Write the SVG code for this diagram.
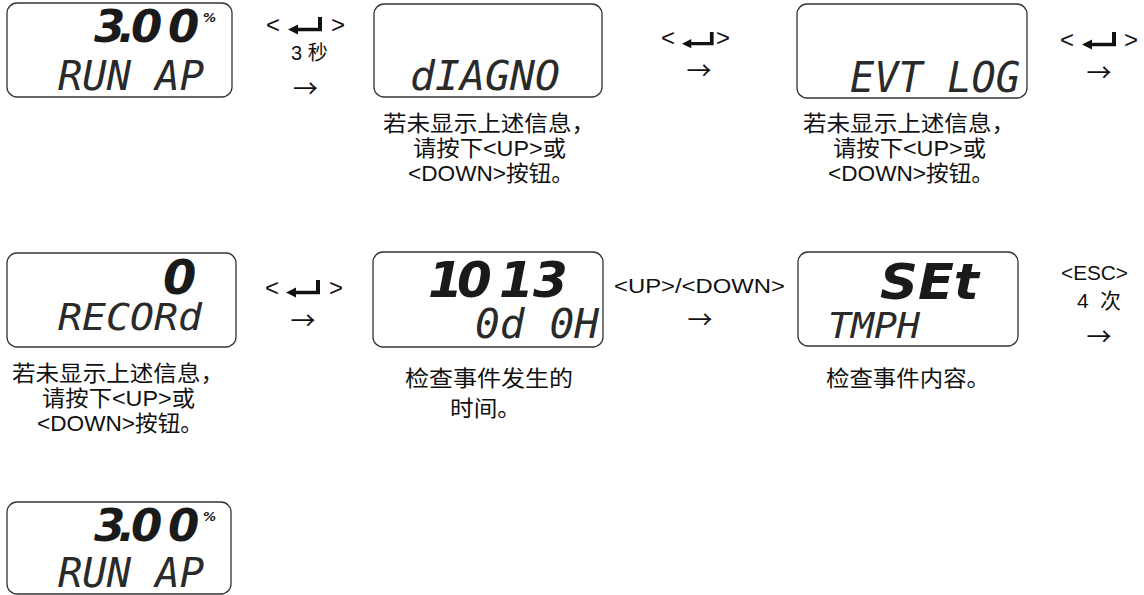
<svg xmlns="http://www.w3.org/2000/svg" xmlns:xlink="http://www.w3.org/1999/xlink" width="1144" height="595" viewBox="0 0 1144 595">
<style>
.box{fill:none;stroke:#333;stroke-width:1.3}
.lcd{font-family:"DejaVu Sans Mono",monospace;font-style:oblique;fill:#2a2a2a}
.top{font-family:"DejaVu Sans",sans-serif;font-style:oblique;font-weight:bold;fill:#1a1a1a}
.t{font-family:"Liberation Sans","Noto Sans CJK SC",sans-serif;fill:#111}
.desc{font-size:22px}
.lbl{font-size:21px}
.br{font-size:24px}
.arr{font-family:"Noto Sans CJK SC",sans-serif;font-size:25px;text-anchor:middle;fill:#111}
</style>
<defs>
<path id="ent" d="M0,12.5 L10,7.5 L10,10.8 L30,10.8 L30,0 L34,0 L34,14.2 L10,14.2 L10,17.5 Z" fill="#111"/>
</defs>
<rect width="1144" height="595" fill="#fff"/>

<g id="n1">
<rect class="box" x="7" y="3" width="225" height="94" rx="10"/>
<text class="top" font-size="45" x="94 118 131 168" y="42">3.00</text>
<text class="top" font-size="13" x="203" y="22">%</text>
<text class="lcd" font-size="41" x="58" y="90" textLength="146" lengthAdjust="spacingAndGlyphs">RUN AP</text>
</g>

<g id="n2">
<rect class="box" x="374" y="4" width="228" height="93" rx="10"/>
<text class="lcd" font-size="41" x="410" y="90" textLength="150" lengthAdjust="spacingAndGlyphs">dIAGNO</text>
</g>

<g id="n3">
<rect class="box" x="797" y="4" width="230" height="94" rx="10"/>
<text class="lcd" font-size="42" x="850" y="92" textLength="170" lengthAdjust="spacingAndGlyphs">EVT LOG</text>
</g>

<g id="n4">
<rect class="box" x="7" y="253" width="229" height="94" rx="10"/>
<text class="top" font-size="48" x="163" y="294">0</text>
<text class="lcd" font-size="38" x="58" y="330" textLength="144" lengthAdjust="spacingAndGlyphs">RECORd</text>
</g>

<g id="n5">
<rect class="box" x="373" y="252" width="230" height="95" rx="10"/>
<text class="top" font-size="50" x="428 457 499 533" y="297">1013</text>
<text class="lcd" font-size="41" x="475" y="338" textLength="124" lengthAdjust="spacingAndGlyphs">0d 0H</text>
</g>

<g id="n6">
<rect class="box" x="798" y="252" width="220" height="94" rx="10"/>
<text class="top" font-size="50" x="880" y="299" textLength="99" lengthAdjust="spacingAndGlyphs">SEt</text>
<text class="lcd" font-size="36" x="828" y="338" textLength="92" lengthAdjust="spacingAndGlyphs">TMPH</text>
</g>

<g id="n7">
<rect class="box" x="7" y="502" width="224" height="92" rx="10"/>
<text class="top" font-size="45" x="94 118 131 168" y="541">3.00</text>
<text class="top" font-size="13" x="203" y="521">%</text>
<text class="lcd" font-size="41" x="58" y="587" textLength="146" lengthAdjust="spacingAndGlyphs">RUN AP</text>
</g>

<g id="notes">
<g id="d4" class="t desc">
<text x="12" y="381" textLength="212" lengthAdjust="spacingAndGlyphs">若未显示上述信息，</text>
<text x="42" y="406" textLength="153" lengthAdjust="spacingAndGlyphs">请按下&lt;UP&gt;或</text>
<text x="37" y="431" textLength="166" lengthAdjust="spacingAndGlyphs">&lt;DOWN&gt;按钮。</text>
</g>
<g id="d2" class="t desc" transform="translate(371,-250)">
<text x="12" y="381" textLength="212" lengthAdjust="spacingAndGlyphs">若未显示上述信息，</text>
<text x="42" y="406" textLength="153" lengthAdjust="spacingAndGlyphs">请按下&lt;UP&gt;或</text>
<text x="37" y="431" textLength="166" lengthAdjust="spacingAndGlyphs">&lt;DOWN&gt;按钮。</text>
</g>
<g id="d3" class="t desc" transform="translate(791,-250)">
<text x="12" y="381" textLength="212" lengthAdjust="spacingAndGlyphs">若未显示上述信息，</text>
<text x="42" y="406" textLength="153" lengthAdjust="spacingAndGlyphs">请按下&lt;UP&gt;或</text>
<text x="37" y="431" textLength="166" lengthAdjust="spacingAndGlyphs">&lt;DOWN&gt;按钮。</text>
</g>
<g id="d5" class="t desc">
<text x="405" y="386" textLength="168" lengthAdjust="spacingAndGlyphs">检查事件发生的</text>
<text x="450" y="416" textLength="71" lengthAdjust="spacingAndGlyphs">时间。</text>
</g>
<g id="d6" class="t desc">
<text x="826" y="386" textLength="164" lengthAdjust="spacingAndGlyphs">检查事件内容。</text>
</g>
</g>

<g id="connectors">
<g id="c1" class="t lbl">
<text class="br" x="266" y="33">&lt;</text>
<use xlink:href="#ent" href="#ent" transform="translate(288,17)"/>
<text class="br" x="331" y="33">&gt;</text>
<text x="291" y="60" font-size="20">3 秒</text>
<text class="arr" x="305.5" y="98">→</text>
</g>
<g id="c2" class="t lbl">
<text class="br" x="661" y="46">&lt;</text>
<use xlink:href="#ent" href="#ent" transform="translate(682,32) scale(0.93)"/>
<text class="br" x="716" y="46">&gt;</text>
<text class="arr" x="699" y="80">→</text>
</g>
<g id="c3" class="t lbl">
<text class="br" x="1060" y="48">&lt;</text>
<use xlink:href="#ent" href="#ent" transform="translate(1082,32)"/>
<text class="br" x="1124" y="48">&gt;</text>
<text class="arr" x="1099" y="82">→</text>
</g>
<g id="c4" class="t lbl">
<text class="br" x="265" y="296">&lt;</text>
<use xlink:href="#ent" href="#ent" transform="translate(286,280)"/>
<text class="br" x="329" y="296">&gt;</text>
<text class="arr" x="303" y="330">→</text>
</g>
<g id="c5" class="t lbl">
<text x="614" y="293" textLength="171" lengthAdjust="spacingAndGlyphs">&lt;UP&gt;/&lt;DOWN&gt;</text>
<text class="arr" x="700" y="329">→</text>
</g>
<g id="c6" class="t lbl">
<text x="1061" y="280" textLength="67" lengthAdjust="spacingAndGlyphs">&lt;ESC&gt;</text>
<text x="1077" y="308" textLength="44" lengthAdjust="spacing">4 次</text>
<text class="arr" x="1099" y="346">→</text>
</g>
</g>
</svg>
